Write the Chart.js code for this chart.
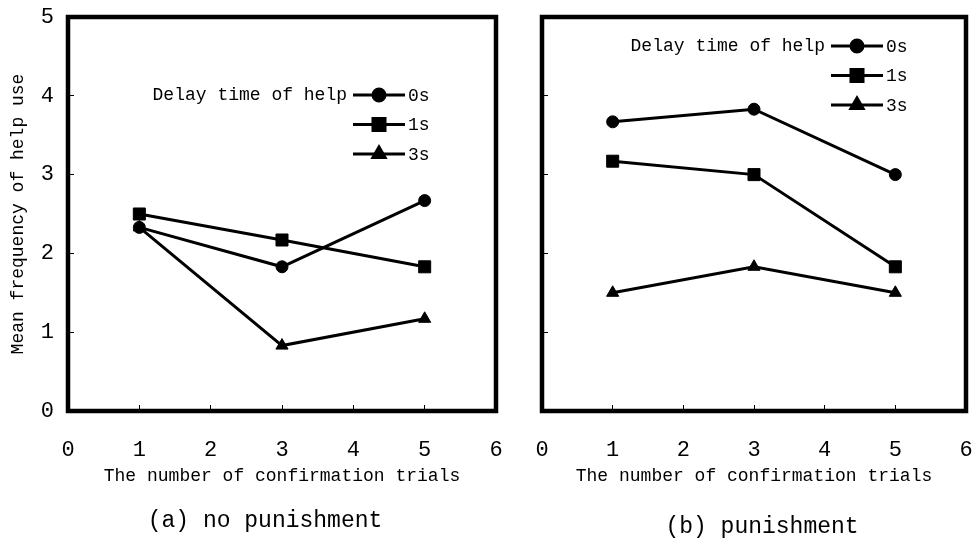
<!DOCTYPE html>
<html>
<head>
<meta charset="utf-8">
<script src="https://cdn.jsdelivr.net/npm/chart.js@4.4.1/dist/chart.umd.min.js"></script>
<style>
  body { margin: 0; background: #fff; }
  #wrap { position: relative; width: 973px; height: 543px; background: #fff; }
  .panel { position: absolute; top: 0; }
  .caption { position: absolute; font-family: "Liberation Mono", monospace; font-size: 23px; color: #000; white-space: pre; transform: translateX(-50%); }
</style>
</head>
<body>
<div id="wrap">
  <div class="panel" style="left:0;width:510px;height:543px"><canvas id="chartA"></canvas></div>
  <div class="panel" style="left:510px;width:463px;height:543px"><canvas id="chartB"></canvas></div>
  <div class="caption" style="left:265px;top:508px">(a) no punishment</div>
  <div class="caption" style="left:762px;top:514px">(b) punishment</div>
</div>
<script>
const trials = [1, 3, 5];
const seriesNames = ['0s', '1s', '3s'];
const markers = ['circle', 'rect', 'triangle'];
const markerSizes = [6, 8.5, 7];

// (a) no punishment
const noPun0s = [2.33, 1.83, 2.67];
const noPun1s = [2.5, 2.17, 1.83];
const noPun3s = [2.33, 0.83, 1.17];

// (b) punishment
const pun0s = [3.67, 3.83, 3.0];
const pun1s = [3.17, 3.0, 1.83];
const pun3s = [1.5, 1.83, 1.5];

const legendTitle = 'Delay time of help';
const xTitle = 'The number of confirmation trials';
const yTitle = 'Mean frequency of help use';

const FONT = '"Liberation Mono", "DejaVu Sans Mono", monospace';

function makeDatasets(rows) {
    return rows.map((vals, i) => ({
        label: seriesNames[i],
        data: vals.map((v, j) => ({ x: trials[j], y: v })),
        borderColor: '#000',
        backgroundColor: '#000',
        borderWidth: 3,
        pointStyle: markers[i],
        pointRadius: markerSizes[i],
        pointBorderWidth: 1,
        tension: 0
    }));
}

// frame box around the plot area
const framePlugin = {
    id: 'frame',
    afterDraw(chart) {
        const { ctx, chartArea: a } = chart;
        ctx.save();
        ctx.strokeStyle = '#000';
        ctx.lineWidth = 4.5;
        ctx.strokeRect(a.left, a.top, a.right - a.left, a.bottom - a.top);
        ctx.restore();
    }
};

// legend: title text then line+marker samples
const legendPlugin = {
    id: 'sideLegend',
    afterDatasetsDraw(chart, args, opts) {
        const { ctx, chartArea: a } = chart;
        const lineEnd = a.right - opts.fromRight;
        const lineStart = lineEnd - 52;
        const mid = (lineStart + lineEnd) / 2;
        ctx.save();
        ctx.font = '18px ' + FONT;
        ctx.fillStyle = '#000';
        ctx.textBaseline = 'middle';
        ctx.textAlign = 'right';
        ctx.fillText(legendTitle, lineStart - 6, a.top + opts.fromTop);
        chart.data.datasets.forEach((ds, i) => {
            const y = a.top + opts.fromTop + i * 29.5;
            ctx.strokeStyle = '#000';
            ctx.lineWidth = 3;
            ctx.beginPath();
            ctx.moveTo(lineStart, y);
            ctx.lineTo(lineEnd, y);
            ctx.stroke();
            ctx.fillStyle = '#000';
            Chart.helpers.drawPoint(ctx, { pointStyle: ds.pointStyle, radius: ds.pointRadius, rotation: 0, borderWidth: 1 }, mid, y);
            ctx.textAlign = 'left';
            ctx.fillText(ds.label, lineEnd + 3, y + 1);
        });
        ctx.restore();
    }
};

function noPad(s) {
    s.paddingLeft = 0;
    s.paddingRight = 0;
    s.paddingTop = 0;
    s.paddingBottom = 0;
}

function makeChart(id, rows, yWidth, showY, legendPos, padRight) {
    return new Chart(document.getElementById(id), {
        type: 'line',
        data: { datasets: makeDatasets(rows) },
        plugins: [framePlugin, legendPlugin],
        options: {
            responsive: true,
            maintainAspectRatio: false,
            animation: false,
            layout: { autoPadding: false, padding: { left: 0, right: padRight, top: 17, bottom: 52 } },
            plugins: {
                legend: { display: false },
                tooltip: { enabled: false },
                sideLegend: legendPos
            },
            scales: {
                x: {
                    type: 'linear',
                    min: 0,
                    max: 6,
                    afterFit: s => { s.height = 80; noPad(s); },
                    ticks: { stepSize: 1, padding: 32, color: '#000', font: { family: FONT, size: 22 }, maxRotation: 0 },
                    grid: { drawOnChartArea: false, tickLength: -6, color: '#000', lineWidth: 1 },
                    border: { display: false },
                    title: { display: true, text: xTitle, color: '#000', font: { family: FONT, size: 18 }, padding: { top: 0, bottom: 4 } }
                },
                y: {
                    min: 0,
                    max: 5,
                    afterFit: s => { s.width = yWidth; noPad(s); },
                    ticks: { display: showY, stepSize: 1, padding: 20, color: '#000', font: { family: FONT, size: 22 } },
                    grid: { drawOnChartArea: false, tickLength: -6, color: '#000', lineWidth: 1 },
                    border: { display: false },
                    title: { display: showY, text: yTitle, color: '#000', font: { family: FONT, size: 18 }, padding: { top: 7, bottom: 0 } }
                }
            }
        }
    });
}

makeChart('chartA', [noPun0s, noPun1s, noPun3s], 68, true, { fromRight: 91, fromTop: 78 }, 14);
makeChart('chartB', [pun0s, pun1s, pun3s], 32, false, { fromRight: 83, fromTop: 29 }, 7);
</script>
</body>
</html>
